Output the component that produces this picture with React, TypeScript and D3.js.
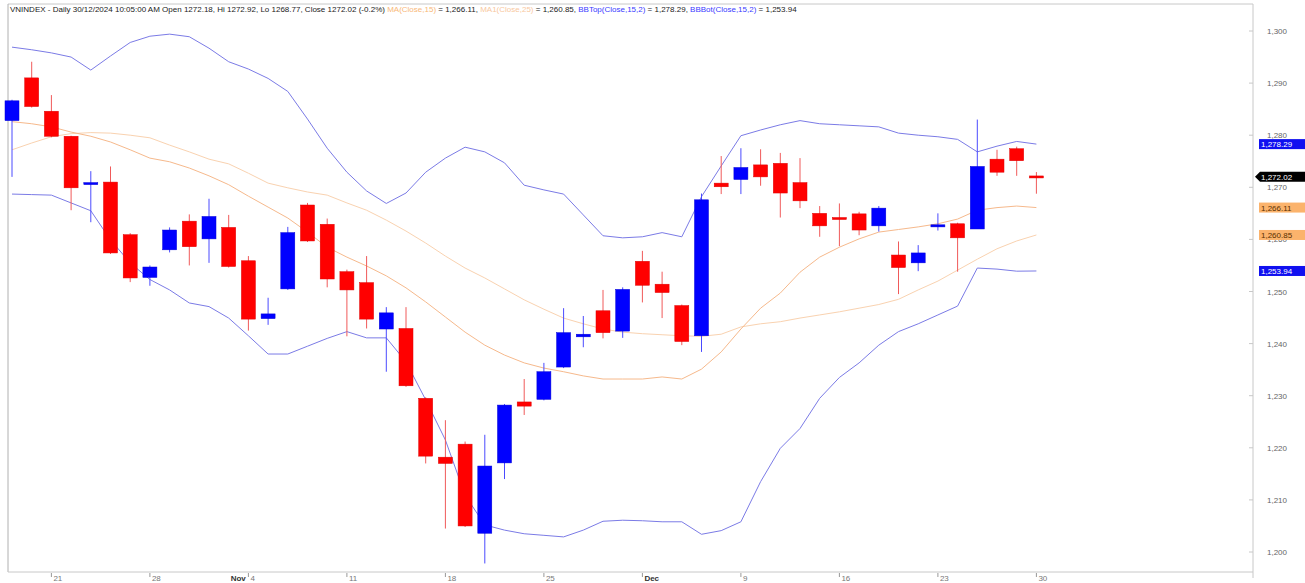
import React from 'react';
import * as d3 from 'd3';

// trading days shown on the chart
const dates: string[] = [
    '2024-10-17', '2024-10-18', '2024-10-21', '2024-10-22', '2024-10-23', '2024-10-24', '2024-10-25',
    '2024-10-28', '2024-10-29', '2024-10-30', '2024-10-31', '2024-11-01',
    '2024-11-04', '2024-11-05', '2024-11-06', '2024-11-07', '2024-11-08',
    '2024-11-11', '2024-11-12', '2024-11-13', '2024-11-14', '2024-11-15',
    '2024-11-18', '2024-11-19', '2024-11-20', '2024-11-21', '2024-11-22',
    '2024-11-25', '2024-11-26', '2024-11-27', '2024-11-28', '2024-11-29',
    '2024-12-02', '2024-12-03', '2024-12-04', '2024-12-05', '2024-12-06',
    '2024-12-09', '2024-12-10', '2024-12-11', '2024-12-12', '2024-12-13',
    '2024-12-16', '2024-12-17', '2024-12-18', '2024-12-19', '2024-12-20',
    '2024-12-23', '2024-12-24', '2024-12-25', '2024-12-26', '2024-12-27',
    '2024-12-30',
];

const openPx: number[] = [
    1282.8, 1291.0, 1284.6, 1279.8, 1270.6, 1271.0, 1260.9, 1252.7, 1258.0, 1263.5, 1260.1, 1262.3,
    1255.9, 1244.8, 1250.5, 1266.6, 1262.9, 1253.8, 1251.7, 1242.8, 1242.9, 1229.5, 1218.2, 1220.7,
    1203.6, 1217.1, 1228.8, 1229.3, 1235.5, 1241.3, 1246.3, 1242.4, 1255.8, 1251.4, 1247.3, 1241.5,
    1270.8, 1271.5, 1274.3, 1274.6, 1270.9, 1265.0, 1264.2, 1264.9, 1262.6, 1257.0, 1255.5, 1262.4,
    1263.0, 1262.0, 1275.4, 1277.4, 1272.18,
];
const highPx: number[] = [
    1286.8, 1294.1, 1287.7, 1279.9, 1273.1, 1274.0, 1261.2, 1255.0, 1262.3, 1264.8, 1267.8, 1264.7,
    1256.8, 1248.8, 1262.4, 1267.0, 1264.0, 1254.2, 1256.8, 1247.0, 1247.0, 1229.7, 1225.3, 1221.2,
    1222.5, 1228.4, 1233.2, 1236.3, 1246.8, 1245.3, 1250.3, 1250.8, 1257.8, 1253.8, 1247.5, 1268.8,
    1276.0, 1277.5, 1277.3, 1276.6, 1275.6, 1266.4, 1266.9, 1265.3, 1266.4, 1259.6, 1258.9, 1265.0,
    1263.2, 1283.0, 1277.2, 1277.8, 1272.92,
];
const lowPx: number[] = [
    1272.0, 1285.3, 1279.6, 1265.6, 1263.3, 1257.2, 1251.8, 1251.1, 1257.5, 1255.0, 1255.5, 1254.6,
    1242.5, 1243.6, 1250.3, 1259.5, 1250.8, 1241.4, 1242.9, 1234.6, 1231.7, 1217.0, 1204.5, 1204.8,
    1197.8, 1214.0, 1226.3, 1229.1, 1235.3, 1239.3, 1241.0, 1241.1, 1247.9, 1244.9, 1239.7, 1238.4,
    1268.7, 1268.7, 1270.3, 1264.2, 1266.0, 1260.5, 1258.7, 1260.8, 1261.5, 1249.5, 1253.9, 1261.7,
    1253.8, 1262.0, 1272.2, 1272.2, 1268.77,
];
const closePx: number[] = [
    1286.6, 1285.5, 1279.8, 1269.9, 1270.9, 1257.4, 1252.6, 1254.7, 1261.8, 1258.6, 1264.4, 1254.8,
    1244.7, 1245.7, 1261.3, 1259.7, 1252.4, 1250.3, 1244.7, 1245.9, 1231.9, 1218.4, 1217.0, 1205.0,
    1216.5, 1228.2, 1228.0, 1234.6, 1242.1, 1241.8, 1242.1, 1250.4, 1251.2, 1249.8, 1240.4, 1267.6,
    1270.1, 1273.8, 1272.0, 1268.9, 1267.4, 1262.6, 1263.9, 1261.8, 1266.0, 1254.6, 1257.4, 1262.8,
    1260.3, 1274.0, 1272.9, 1275.1, 1272.02,
];

// indicator lines
const ma15: number[] = [
    1282.6, 1282.2, 1281.6, 1280.6, 1279.8, 1278.7, 1277.2, 1275.6, 1274.9, 1273.7, 1272.2, 1270.5,
    1268.3, 1266.2, 1264.1, 1261.4, 1258.5, 1256.6, 1254.9, 1253.0, 1250.7, 1248.0, 1245.1, 1242.2,
    1239.7, 1237.8, 1236.3, 1235.3, 1234.6, 1233.8, 1233.2, 1233.2, 1233.2, 1233.6, 1233.2, 1235.1,
    1238.4, 1242.8, 1246.8, 1249.7, 1253.7, 1256.6, 1258.5, 1260.1, 1261.4, 1261.9, 1262.4, 1263.0,
    1263.9, 1265.6, 1266.1, 1266.4, 1266.11,
];
const ma25: number[] = [
    1277.2, 1278.5, 1279.7, 1280.3, 1280.5, 1280.4, 1280.0, 1279.5, 1278.1, 1276.8, 1275.4, 1274.5,
    1272.7, 1270.8, 1269.9, 1269.1, 1268.5, 1267.0, 1265.6, 1263.7, 1261.6, 1259.3, 1256.8, 1254.5,
    1252.6, 1250.5, 1248.4, 1246.6, 1244.9, 1243.8, 1242.8, 1242.2, 1241.9, 1241.7, 1241.5, 1241.4,
    1241.8, 1243.2, 1243.8, 1244.2, 1244.9, 1245.5, 1246.1, 1246.8, 1247.5, 1248.5, 1250.3, 1252.0,
    1254.1, 1256.2, 1258.2, 1259.7, 1260.85,
];
const bbTop: number[] = [
    1296.9, 1296.4, 1295.8, 1295.0, 1292.5, 1295.2, 1297.8, 1299.0, 1299.4, 1298.9, 1296.7, 1294.1,
    1292.7, 1290.9, 1288.4, 1283.1, 1277.5, 1272.9, 1269.3, 1266.9, 1268.9, 1272.9, 1275.6, 1277.7,
    1276.8, 1274.7, 1270.4, 1269.5, 1268.7, 1264.7, 1260.7, 1260.3, 1260.5, 1261.3, 1260.5, 1268.2,
    1274.1, 1279.9, 1281.0, 1282.0, 1282.8, 1282.2, 1282.0, 1281.8, 1281.6, 1280.4, 1280.0, 1279.7,
    1279.2, 1276.8, 1277.9, 1278.8, 1278.29,
];
const bbBot: number[] = [
    1268.7, 1268.6, 1268.5, 1267.0, 1265.5, 1259.9, 1255.5, 1252.3, 1250.3, 1247.8, 1247.1, 1244.9,
    1241.5, 1238.0, 1238.0, 1239.5, 1241.0, 1242.3, 1241.1, 1241.1, 1236.5, 1229.2, 1221.5, 1210.9,
    1205.2, 1204.2, 1203.5, 1203.2, 1202.9, 1204.2, 1205.9, 1206.1, 1206.0, 1205.8, 1205.8, 1203.4,
    1204.1, 1205.8, 1213.5, 1219.9, 1223.7, 1229.5, 1233.5, 1236.3, 1239.7, 1242.3, 1243.8, 1245.5,
    1247.2, 1254.5, 1254.3, 1253.9, 1253.94,
];

const yTicks: number[] = [1200, 1210, 1220, 1230, 1240, 1250, 1260, 1270, 1280, 1290, 1300];

const FONT = '"Liberation Sans", Arial, sans-serif';
const UP = '#0000ff';
const DOWN = '#ff0000';

const App: React.FC = () => {
    const W = 1305, H = 583;
    const frame = { left: 8, right: 1253, top: 4, bottom: 572 };

    const parse = d3.timeParse('%Y-%m-%d');
    const days = dates.map((d) => parse(d) as Date);

    const x = d3.scaleLinear().domain([0, dates.length - 1]).range([12, 1036.4]);
    const y = d3.scaleLinear().domain([1200, 1300]).range([552, 31]);
    const bodyW = 14;

    const line = (vals: number[]) =>
        d3.line<number>().x((_d, i) => x(i)).y((d) => y(d))(vals) || '';

    const fmt = d3.format(',.2f');

    // bottom axis: a tick on each Monday, month name (bold) on the first day of a month
    const xLabels: { i: number; text: string; bold: boolean; tick: boolean }[] = [];
    days.forEach((d, i) => {
        const firstOfMonth = i > 0 && d.getMonth() !== days[i - 1].getMonth();
        const monday = d.getDay() === 1;
        if (firstOfMonth) {
            xLabels.push({ i, text: d3.timeFormat('%b')(d), bold: true, tick: monday });
        } else if (monday) {
            xLabels.push({ i, text: String(d.getDate()), bold: false, tick: true });
        }
    });

    const tags = [
        { v: bbTop[bbTop.length - 1], bg: '#1010f0', fg: '#ffffff' },
        { v: ma15[ma15.length - 1], bg: '#fbb36c', fg: '#5a3000' },
        { v: ma25[ma25.length - 1], bg: '#fbb36c', fg: '#5a3000' },
        { v: bbBot[bbBot.length - 1], bg: '#1010f0', fg: '#ffffff' },
    ];
    const lastClose = closePx[closePx.length - 1];
    const lc = y(lastClose);

    return (
        <svg
            width={W}
            height={H}
            style={{ position: 'absolute', left: 0, top: 0, background: '#fff' }}
            fontFamily={FONT}
        >
            <rect x={0} y={0} width={W} height={H} fill="#fff" />

            {/* frame */}
            <line x1={frame.left} y1={frame.top} x2={frame.right} y2={frame.top} stroke="#c8c8c8" />
            <line x1={frame.left} y1={frame.top} x2={frame.left} y2={frame.bottom} stroke="#b0b0b0" />
            <line x1={frame.right} y1={frame.top} x2={frame.right} y2={frame.bottom + 6} stroke="#c8c8c8" />
            <line x1={frame.left} y1={frame.bottom} x2={frame.right} y2={frame.bottom} stroke="#c8c8c8" />

            {/* title */}
            <text x={10} y={12} fontSize={8} fill="#222">
                <tspan>VNINDEX - Daily 30/12/2024 10:05:00 AM Open 1272.18, Hi 1272.92, Lo 1268.77, Close 1272.02 (-0.2%) </tspan>
                <tspan fill="#f8b878">MA(Close,15)</tspan>
                <tspan> = 1,266.11, </tspan>
                <tspan fill="#f8c8a0">MA1(Close,25)</tspan>
                <tspan> = 1,260.85, </tspan>
                <tspan fill="#3a3aff">BBTop(Close,15,2)</tspan>
                <tspan> = 1,278.29, </tspan>
                <tspan fill="#3a3aff">BBBot(Close,15,2)</tspan>
                <tspan> = 1,253.94</tspan>
            </text>

            {/* right axis */}
            {yTicks.map((t) => (
                <g key={t}>
                    <line x1={frame.right - 4} x2={frame.right} y1={y(t)} y2={y(t)} stroke="#c8c8c8" />
                    <text x={1277} y={y(t) + 3} fontSize={8} fill="#666" textAnchor="middle">
                        {d3.format(',')(t)}
                    </text>
                </g>
            ))}

            {/* bottom axis */}
            {xLabels.map((l) => (
                <g key={l.i}>
                    {l.tick && (
                        <line x1={x(l.i)} x2={x(l.i)} y1={frame.bottom + 1} y2={frame.bottom + 5} stroke="#999" />
                    )}
                    <text
                        x={x(l.i) + 2}
                        y={frame.bottom + 9}
                        fontSize={8}
                        fontWeight={l.bold ? 700 : 400}
                        fill={l.bold ? '#333' : '#777'}
                    >
                        {l.text}
                    </text>
                </g>
            ))}

            {/* indicator lines */}
            <path d={line(ma25)} fill="none" stroke="#f9d2b0" strokeWidth={1} />
            <path d={line(ma15)} fill="none" stroke="#f6b98c" strokeWidth={1} />
            <path d={line(bbTop)} fill="none" stroke="#7b7be6" strokeWidth={1} />
            <path d={line(bbBot)} fill="none" stroke="#7b7be6" strokeWidth={1} />

            {/* candles */}
            {dates.map((d, i) => {
                const o = openPx[i], c = closePx[i];
                const up = c >= o;
                const top = y(Math.max(o, c));
                const h = Math.max(2, y(Math.min(o, c)) - top);
                return (
                    <g key={d}>
                        <line
                            x1={x(i)}
                            x2={x(i)}
                            y1={y(highPx[i])}
                            y2={y(lowPx[i])}
                            stroke={up ? '#4a4aff' : '#f05a5a'}
                            strokeWidth={1}
                        />
                        <rect
                            x={x(i) - bodyW / 2}
                            y={top}
                            width={bodyW}
                            height={h}
                            fill={up ? UP : DOWN}
                            stroke={up ? '#0000d8' : '#e00000'}
                            strokeWidth={0.5}
                        />
                    </g>
                );
            })}

            {/* value tags on the right */}
            {tags.map((t, k) => (
                <g key={k}>
                    <rect x={1259} y={y(t.v) - 5} width={46} height={10} fill={t.bg} />
                    <text x={1261} y={y(t.v) + 3} fontSize={8} fill={t.fg}>
                        {fmt(t.v)}
                    </text>
                </g>
            ))}
            <g>
                <path
                    d={`M${frame.right + 2},${lc} L${frame.right + 7},${lc - 5} L${W},${lc - 5} L${W},${lc + 5} L${frame.right + 7},${lc + 5} Z`}
                    fill="#000"
                />
                <text x={1261} y={lc + 3} fontSize={8} fill="#fff">
                    {fmt(lastClose)}
                </text>
            </g>
        </svg>
    );
};

export default App;
